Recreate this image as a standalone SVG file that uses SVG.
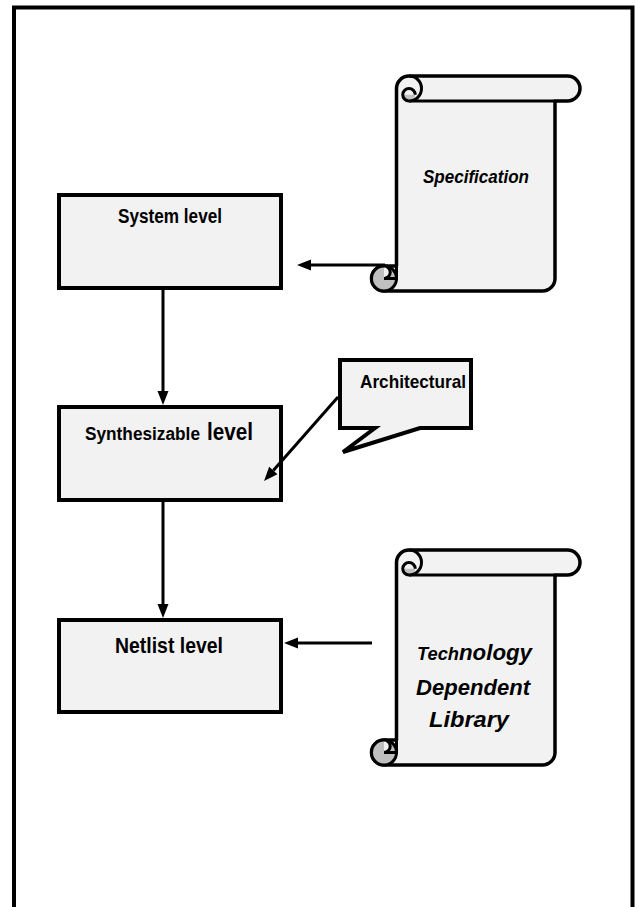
<svg xmlns="http://www.w3.org/2000/svg" xmlns:xlink="http://www.w3.org/1999/xlink" width="637" height="907" viewBox="0 0 637 907">
<style>
.box{fill:#f2f2f2;stroke:#000;stroke-width:4}
.ln{fill:none;stroke:#000;stroke-width:3}
.sc{fill:#f2f2f2;stroke:#000;stroke-width:3.5;stroke-linejoin:round}
.gr{fill:#c0c0c0;stroke:#000;stroke-width:3}
.t{font-family:"Liberation Sans",Arial,sans-serif;font-weight:bold;fill:#000}
.it{font-style:italic}
</style>
<defs>
<marker id="ah" markerUnits="userSpaceOnUse" markerWidth="14" markerHeight="11" refX="0" refY="5.5" orient="auto" overflow="visible">
<path d="M0,0 L14,5.5 L0,11 Z" fill="#000"/>
</marker>
<g id="scroll">
<path class="sc" d="M396.5,88.5 A12.5,12.5 0 0 1 409,76 L567.5,76 A12.5,12.5 0 0 1 567.5,101 L555,101 L555,278.5 A12.5,12.5 0 0 1 542.5,291 L384,291 A12.5,12.5 0 0 1 384,266 L396.5,266 Z"/>
<path class="ln" d="M409,101 L555,101"/>
<path d="M402.75,94.75 A6.25,6.25 0 0 0 415.25,94.75 Z" fill="#c0c0c0"/>
<path class="ln" d="M409,76 A12.5,12.5 0 0 1 409,101 A6.25,6.25 0 0 1 409,88.5 A6.25,6.25 0 0 1 415.25,94.75"/>
<circle class="gr" cx="384" cy="278.5" r="12.5"/>
<path d="M384,266 A6.25,6.25 0 0 1 384,278.5 Z" fill="#f2f2f2"/>
<path class="ln" d="M384,266 A6.25,6.25 0 0 1 384,278.5 L396.5,278.5 L396.5,266"/>
</g>
</defs>
<rect x="14" y="7.5" width="618.5" height="920" fill="#fff" stroke="#000" stroke-width="4"/>

<g id="system-level">
<rect class="box" x="59" y="195" width="222" height="93"/>
<text class="t" x="170" y="223" font-size="20" text-anchor="middle" textLength="104" lengthAdjust="spacingAndGlyphs">System level</text>
</g>
<g id="synthesizable-level">
<rect class="box" x="59" y="407" width="222" height="93"/>
<text class="t" y="440"><tspan x="85" font-size="18" textLength="115" lengthAdjust="spacingAndGlyphs">Synthesizable</tspan> <tspan x="207" font-size="24" textLength="46" lengthAdjust="spacingAndGlyphs">level</tspan></text>
</g>
<g id="netlist-level">
<rect class="box" x="59" y="620" width="222" height="92"/>
<text class="t" x="115" y="653" font-size="22" textLength="108" lengthAdjust="spacingAndGlyphs">Netlist level</text>
</g>
<g id="specification">
<use xlink:href="#scroll"/>
<text class="t it" x="476" y="183" font-size="19" text-anchor="middle" textLength="106" lengthAdjust="spacingAndGlyphs">Specification</text>
</g>
<g id="technology-library">
<use xlink:href="#scroll" transform="translate(0,474)"/>
<text class="t it" y="660"><tspan x="417" font-size="18" textLength="42" lengthAdjust="spacingAndGlyphs">Tech</tspan><tspan x="459" font-size="22" textLength="73" lengthAdjust="spacingAndGlyphs">nology</tspan></text>
<text class="t it" x="473" y="695" font-size="22" text-anchor="middle" textLength="114" lengthAdjust="spacingAndGlyphs">Dependent</text>
<text class="t it" x="469" y="727" font-size="22" text-anchor="middle" textLength="80" lengthAdjust="spacingAndGlyphs">Library</text>
</g>
<g id="architectural">
<path d="M340,360 L471,360 L471,428 L420,428 L343,452 L375,428 L340,428 Z" fill="#f2f2f2" stroke="#000" stroke-width="4" stroke-linejoin="miter"/>
<text class="t" x="360" y="388" font-size="19" textLength="106" lengthAdjust="spacingAndGlyphs">Architectural</text>
</g>
<g id="connectors">
<line class="ln" x1="385" y1="265" x2="311" y2="265" marker-end="url(#ah)"/>
<line class="ln" x1="163" y1="290" x2="163" y2="391" marker-end="url(#ah)"/>
<line class="ln" x1="163" y1="502" x2="163" y2="604" marker-end="url(#ah)"/>
<line class="ln" x1="372" y1="643" x2="298" y2="643" marker-end="url(#ah)"/>
<line class="ln" x1="338" y1="397" x2="273.3" y2="470.5" marker-end="url(#ah)"/>
</g>
</svg>
